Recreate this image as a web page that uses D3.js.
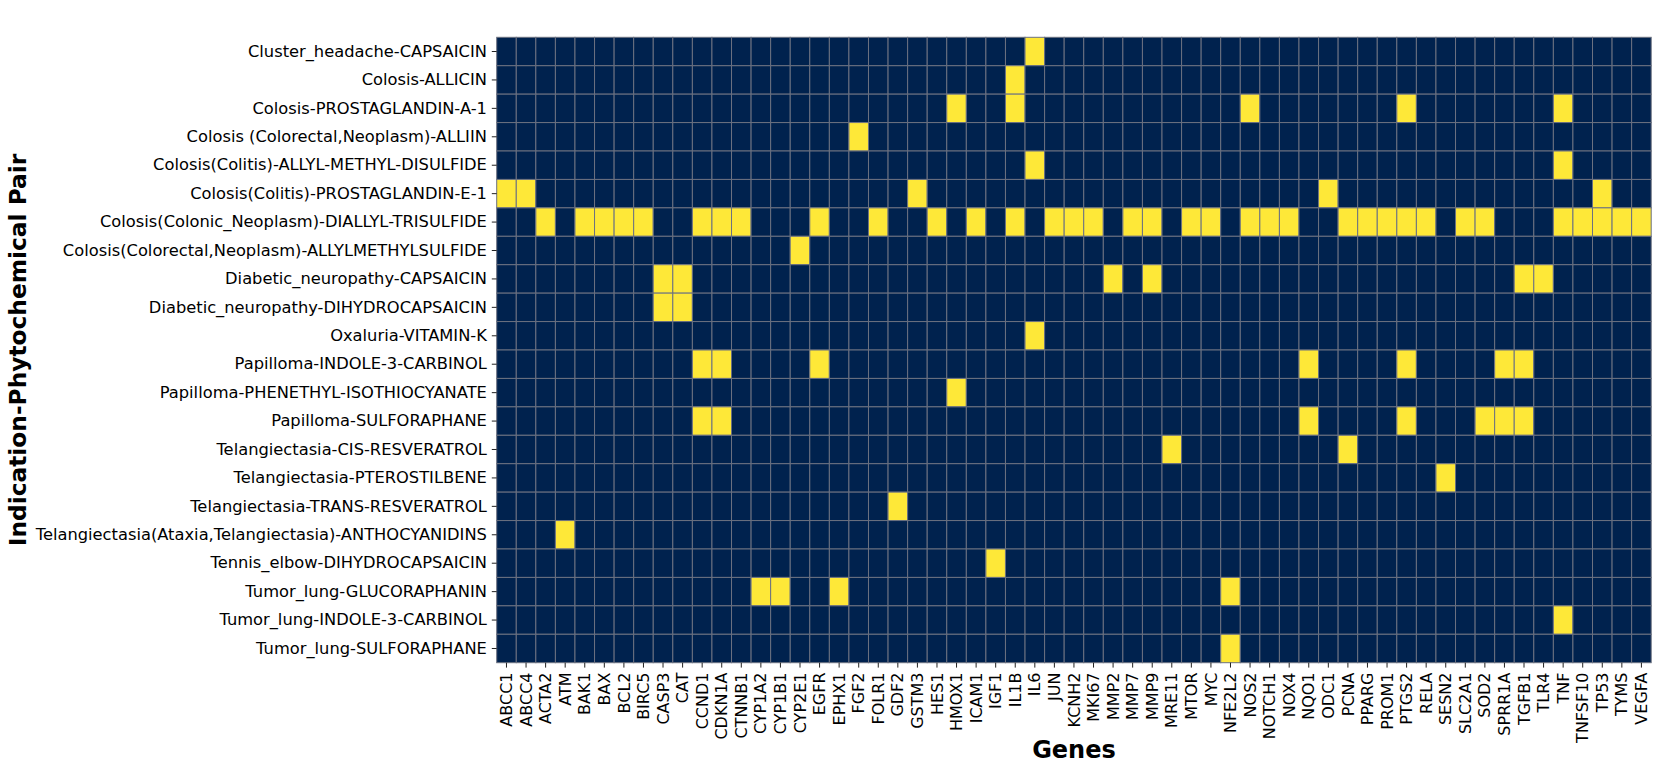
<!DOCTYPE html>
<html>
<head>
<meta charset="utf-8">
<title>Indication-Phytochemical Pair vs Genes</title>
<script src="https://cdnjs.cloudflare.com/ajax/libs/d3/7.8.5/d3.min.js"></script>
<style>
	body, html {
		margin: 0;
		background: #fff;
		overflow: hidden;
	}
	text {
		font-family: "DejaVu Sans", sans-serif;
	}
	.cell {
		stroke: #6b7180;
		stroke-width: 1;
	}
	.tick line {
		stroke: #222;
	}
	.domain {
		display: none;
	}
</style>
</head>
<body>
<div id="chart"></div>
<script>
	// row labels (top to bottom)
	var pairs = [
		"Cluster_headache-CAPSAICIN",
		"Colosis-ALLICIN",
		"Colosis-PROSTAGLANDIN-A-1",
		"Colosis (Colorectal,Neoplasm)-ALLIIN",
		"Colosis(Colitis)-ALLYL-METHYL-DISULFIDE",
		"Colosis(Colitis)-PROSTAGLANDIN-E-1",
		"Colosis(Colonic_Neoplasm)-DIALLYL-TRISULFIDE",
		"Colosis(Colorectal,Neoplasm)-ALLYLMETHYLSULFIDE",
		"Diabetic_neuropathy-CAPSAICIN",
		"Diabetic_neuropathy-DIHYDROCAPSAICIN",
		"Oxaluria-VITAMIN-K",
		"Papilloma-INDOLE-3-CARBINOL",
		"Papilloma-PHENETHYL-ISOTHIOCYANATE",
		"Papilloma-SULFORAPHANE",
		"Telangiectasia-CIS-RESVERATROL",
		"Telangiectasia-PTEROSTILBENE",
		"Telangiectasia-TRANS-RESVERATROL",
		"Telangiectasia(Ataxia,Telangiectasia)-ANTHOCYANIDINS",
		"Tennis_elbow-DIHYDROCAPSAICIN",
		"Tumor_lung-GLUCORAPHANIN",
		"Tumor_lung-INDOLE-3-CARBINOL",
		"Tumor_lung-SULFORAPHANE"
	];

	// column labels
	var genes = ["ABCC1", "ABCC4", "ACTA2", "ATM", "BAK1", "BAX", "BCL2", "BIRC5", "CASP3", "CAT",
		"CCND1", "CDKN1A", "CTNNB1", "CYP1A2", "CYP1B1", "CYP2E1", "EGFR", "EPHX1", "FGF2", "FOLR1",
		"GDF2", "GSTM3", "HES1", "HMOX1", "ICAM1", "IGF1", "IL1B", "IL6", "JUN", "KCNH2",
		"MKI67", "MMP2", "MMP7", "MMP9", "MRE11", "MTOR", "MYC", "NFE2L2", "NOS2", "NOTCH1",
		"NOX4", "NQO1", "ODC1", "PCNA", "PPARG", "PROM1", "PTGS2", "RELA", "SESN2", "SLC2A1",
		"SOD2", "SPRR1A", "TGFB1", "TLR4", "TNF", "TNFSF10", "TP53", "TYMS", "VEGFA"
	];

	// genes linked to each pair (value 1), everything else is 0
	var links = [
		["IL6"],
		["IL1B"],
		["HMOX1", "IL1B", "NOS2", "PTGS2", "TNF"],
		["FGF2"],
		["IL6", "TNF"],
		["ABCC1", "ABCC4", "GSTM3", "ODC1", "TP53"],
		["ACTA2", "BAK1", "BAX", "BCL2", "BIRC5", "CCND1", "CDKN1A", "CTNNB1", "EGFR", "FOLR1",
			"HES1", "ICAM1", "IL1B", "JUN", "KCNH2", "MKI67", "MMP7", "MMP9", "MTOR", "MYC",
			"NOS2", "NOTCH1", "NOX4", "PCNA", "PPARG", "PROM1", "PTGS2", "RELA", "SLC2A1", "SOD2",
			"TNF", "TNFSF10", "TP53", "TYMS", "VEGFA"],
		["CYP2E1"],
		["CASP3", "CAT", "MMP2", "MMP9", "TGFB1", "TLR4"],
		["CASP3", "CAT"],
		["IL6"],
		["CCND1", "CDKN1A", "EGFR", "NQO1", "PTGS2", "SPRR1A", "TGFB1"],
		["HMOX1"],
		["CCND1", "CDKN1A", "NQO1", "PTGS2", "SOD2", "SPRR1A", "TGFB1"],
		["MRE11", "PCNA"],
		["SESN2"],
		["GDF2"],
		["ATM"],
		["IGF1"],
		["CYP1A2", "CYP1B1", "EPHX1", "NFE2L2"],
		["TNF"],
		["NFE2L2"]
	];

	var w = 1661, h = 771;
	var margin = { left: 496.7, top: 37.3 };
	var pw = 1651.2 - margin.left;
	var ph = 662.7 - margin.top;

	var cells = [];
	pairs.forEach(function (p, i) {
		genes.forEach(function (g) {
			cells.push({ pair: p, gene: g, value: links[i].indexOf(g) >= 0 ? 1 : 0 });
		});
	});

	var svg = d3.select("#chart").append("svg")
		.attr("width", w)
		.attr("height", h);

	var g = svg.append("g")
		.attr("transform", "translate(" + margin.left + "," + margin.top + ")");

	var x = d3.scaleBand().domain(genes).range([0, pw]);
	var y = d3.scaleBand().domain(pairs).range([0, ph]);
	var color = d3.scaleOrdinal().domain([0, 1]).range(["#00224e", "#fee838"]);

	g.selectAll("rect").data(cells)
		.enter().append("rect")
		.attr("class", "cell")
		.attr("x", function (d) { return x(d.gene); })
		.attr("y", function (d) { return y(d.pair); })
		.attr("width", x.bandwidth())
		.attr("height", y.bandwidth())
		.attr("fill", function (d) { return color(d.value); });

	// y axis
	var yAxis = g.append("g")
		.call(d3.axisLeft(y).tickSize(4.9).tickPadding(4.9));
	yAxis.selectAll("text")
		.attr("font-size", "16.3px")
		.attr("fill", "#000");

	// x axis
	var xAxis = g.append("g")
		.attr("transform", "translate(0," + ph + ")")
		.call(d3.axisBottom(x).tickSize(4.9).tickPadding(4.9));
	xAxis.selectAll("text")
		.attr("font-size", "16px")
		.attr("fill", "#000")
		.attr("transform", "rotate(-90)")
		.attr("text-anchor", "end")
		.attr("x", -9.8)
		.attr("y", 0)
		.attr("dy", "0.35em");

	// axis titles
	svg.append("text")
		.attr("x", margin.left + pw / 2)
		.attr("y", 758)
		.attr("text-anchor", "middle")
		.attr("font-size", "24px")
		.attr("font-weight", "bold")
		.text("Genes");

	svg.append("text")
		.attr("transform", "translate(26," + (margin.top + ph / 2) + ") rotate(-90)")
		.attr("text-anchor", "middle")
		.attr("font-size", "23.3px")
		.attr("font-weight", "bold")
		.text("Indication-Phytochemical Pair");
</script>
</body>
</html>
